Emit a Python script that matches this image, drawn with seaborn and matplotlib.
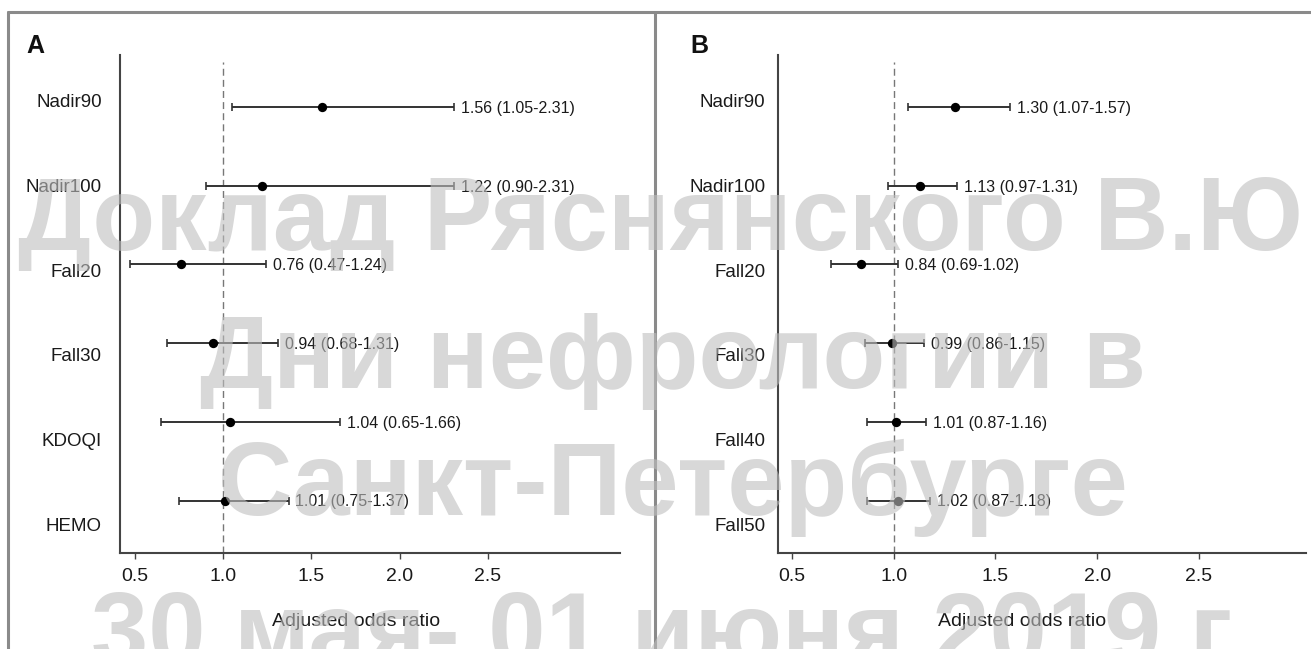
import numpy as np
import pandas as pd
import matplotlib
matplotlib.use("Agg")
import matplotlib.pyplot as plt
from matplotlib.lines import Line2D
import seaborn as sns

# ---- data -------------------------------------------------------------
labels_a = ["Nadir90", "Nadir100", "Fall20", "Fall30", "KDOQI", "HEMO"]
or_a = [1.56, 1.22, 0.76, 0.94, 1.04, 1.01]
lo_a = [1.05, 0.90, 0.47, 0.68, 0.65, 0.75]
hi_a = [2.31, 2.31, 1.24, 1.31, 1.66, 1.37]

labels_b = ["Nadir90", "Nadir100", "Fall20", "Fall30", "Fall40", "Fall50"]
or_b = [1.30, 1.13, 0.84, 0.99, 1.01, 1.02]
lo_b = [1.07, 0.97, 0.69, 0.86, 0.87, 0.87]
hi_b = [1.57, 1.31, 1.02, 1.15, 1.16, 1.18]

x_ticks = [0.5, 1.0, 1.5, 2.0, 2.5]
x_label = "Adjusted odds ratio"

watermark_lines = ["Доклад Ряснянского В.Ю", "Дни нефрологии в",
                   "Санкт-Петербурге", "30 мая- 01 июня 2019 г"]

# ---- style ------------------------------------------------------------
sns.set_theme(style="white")
FONT = ["Liberation Sans", "DejaVu Sans"]
plt.rcParams["font.family"] = FONT

W, H = 1311, 649
fig = plt.figure(figsize=(W / 100, H / 100), dpi=100)
fig.patch.set_facecolor("white")


def px_axes(left, right, top, bottom):
    return fig.add_axes([left / W, 1 - bottom / H, (right - left) / W, (bottom - top) / H])


def forest(ax, labels, ors, los, his, xlim, label_x, label_pad):
    n = len(labels)
    df = pd.DataFrame({"label": labels, "or": ors, "lo": los, "hi": his,
                       "row": np.arange(n)})
    ax.axvline(1.0, ymin=0, ymax=0.985, color="#777777", lw=1.0,
               ls=(0, (5, 3)), zorder=1)
    ax.errorbar(df["or"], df["row"],
                xerr=[df["or"] - df["lo"], df["hi"] - df["or"]],
                fmt="none", ecolor="#333333", elinewidth=1.4,
                capsize=3, capthick=1.2, zorder=2)
    sns.scatterplot(data=df, x="or", y="row", color="black", s=45,
                    edgecolor="black", linewidth=0, ax=ax, zorder=3,
                    legend=False)
    for _, r in df.iterrows():
        ax.annotate(f"{r['or']:.2f} ({r['lo']:.2f}-{r['hi']:.2f})",
                    xy=(r["hi"], r["row"]), xytext=(5, -1),
                    textcoords="offset points", ha="left", va="center",
                    fontsize=11.5, color="#1a1a1a", family=FONT)
    ax.set_xlim(*xlim)
    ax.set_ylim(5.667, -0.661)
    ax.set_xticks(x_ticks)
    ax.set_xticklabels([f"{t:.1f}" for t in x_ticks], fontsize=14,
                       color="#1a1a1a")
    # category labels sit on a slightly wider grid than the rows
    ax.set_yticks(-0.089 + 1.080 * np.arange(n))
    ax.set_yticklabels(labels, fontsize=13.5, color="#1a1a1a")
    ax.tick_params(axis="y", length=0, pad=label_pad)
    ax.tick_params(axis="x", length=4, width=1, color="#444444",
                   direction="out", pad=7, bottom=True)
    for s in ["top", "right"]:
        ax.spines[s].set_visible(False)
    for s in ["left", "bottom"]:
        ax.spines[s].set_color("#444444")
        ax.spines[s].set_linewidth(1.5)
    ax.set_xlabel(x_label, fontsize=14, color="#1a1a1a")
    ax.set_ylabel("")
    ax.xaxis.set_label_coords(label_x, -0.12)
    ax.set_facecolor("none")


ax_a = px_axes(120, 620, 55, 553)
forest(ax_a, labels_a, or_a, lo_a, hi_a, (0.415, 3.248), 0.472, 13)
ax_b = px_axes(778, 1306, 55, 553)
forest(ax_b, labels_b, or_b, lo_b, hi_b, (0.431, 3.027), 0.463, 9)

fig.text(26 / W, 1 - 53 / H, "A", fontsize=18, fontweight="bold",
         ha="left", va="baseline", color="#111111", family=FONT)
fig.text(690 / W, 1 - 53 / H, "B", fontsize=18, fontweight="bold",
         ha="left", va="baseline", color="#111111", family=FONT)

# frame around the two panels
frame_kw = dict(color="#8a8a8a", lw=2.2, transform=fig.transFigure)
fig.add_artist(Line2D([8 / W, 1.0], [1 - 12 / H, 1 - 12 / H], **frame_kw))
fig.add_artist(Line2D([8 / W, 8 / W], [0, 1 - 12 / H], **frame_kw))
fig.add_artist(Line2D([655 / W, 655 / W], [0, 1 - 12 / H], **frame_kw))

# semi-transparent overlay text
wm_pos = [(660, 250), (673, 388), (673, 515), (662, 665)]
for txt, (cx, by) in zip(watermark_lines, wm_pos):
    fig.text(cx / W, 1 - by / H, txt, fontsize=74, fontweight="bold",
             ha="center", va="baseline", color="#bebebe", alpha=0.6,
             family=FONT, zorder=10)

fig.savefig("out.png", dpi=100, facecolor="white")
